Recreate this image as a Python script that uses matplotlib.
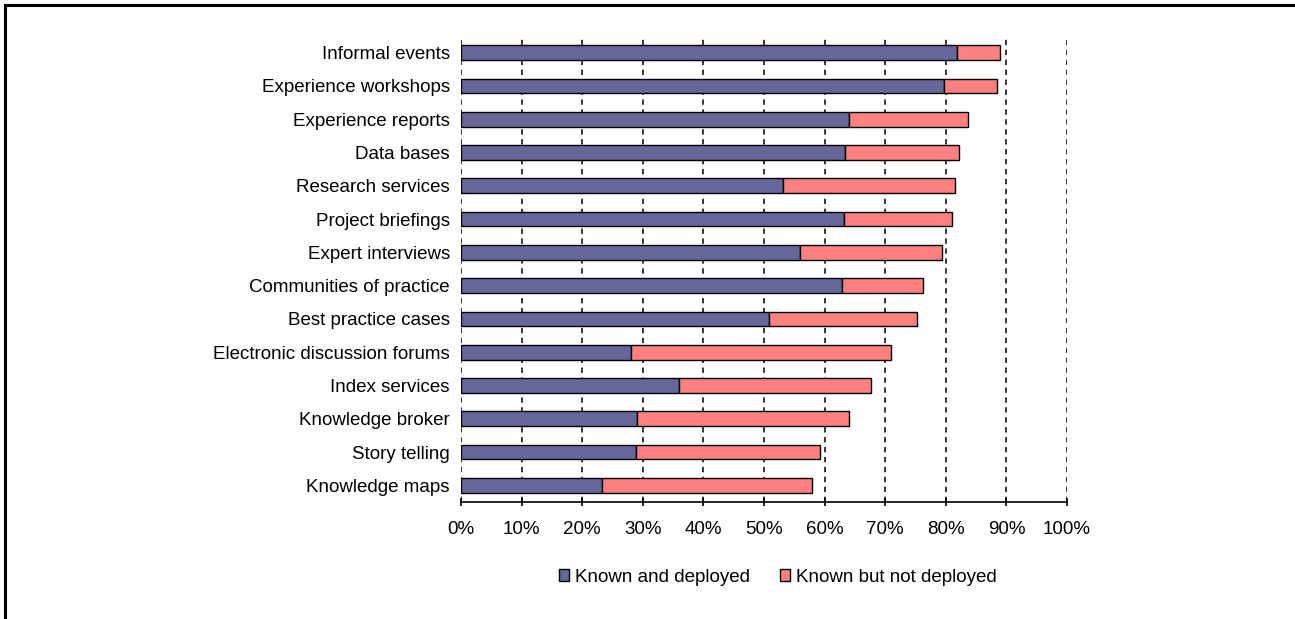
import matplotlib.pyplot as plt
from matplotlib.lines import Line2D

plt.rcParams['font.family'] = ['Liberation Sans', 'DejaVu Sans']

# top to bottom as shown
categories = ['Informal events', 'Experience workshops', 'Experience reports', 'Data bases',
              'Research services', 'Project briefings', 'Expert interviews',
              'Communities of practice', 'Best practice cases', 'Electronic discussion forums',
              'Index services', 'Knowledge broker', 'Story telling', 'Knowledge maps']
deployed = [81.8, 79.7, 64.1, 63.4, 53.1, 63.2, 55.9, 62.9, 50.8, 28.0, 35.9, 29.1, 28.9, 23.3]
total = [89.0, 88.4, 83.7, 82.1, 81.6, 81.1, 79.4, 76.2, 75.3, 70.9, 67.6, 64.1, 59.2, 58.0]
not_deployed = [t - d for t, d in zip(total, deployed)]
xticks = list(range(0, 101, 10))

W, H = 1295, 619
fig = plt.figure(figsize=(W / 100, H / 100), dpi=100)
ax = fig.add_axes([461 / W, 1 - 502 / H, 606 / W, 466 / H])

y = list(range(len(categories)))
ax.barh(y, deployed, height=0.44, color='#666699', edgecolor='black', linewidth=1,
        label='Known and deployed', zorder=3)
ax.barh(y, not_deployed, left=deployed, height=0.44, color='#FF8080', edgecolor='black',
        linewidth=1, label='Known but not deployed', zorder=3)

ax.set_ylim(len(categories) - 0.5, -0.5)
ax.set_xlim(0, 100)
ax.set_yticks(y)
ax.set_yticklabels(categories, fontsize=13.5)
ax.set_xticks(xticks)
ax.set_xticklabels([f'{v}%' for v in xticks], fontsize=13.5)
ax.tick_params(axis='y', length=0, pad=8)
ax.tick_params(axis='x', direction='inout', length=6, width=1.2, pad=11)

for s in ['top', 'right', 'left']:
    ax.spines[s].set_visible(False)
ax.spines['bottom'].set_linewidth(1.2)
for v in xticks:
    ax.axvline(v, color='black', linestyle=(0, (3.5, 3)), linewidth=1.1, zorder=1)

fig.legend(loc='center', bbox_to_anchor=(778 / W, 1 - 577 / H), ncol=2, frameon=False,
           fontsize=13.5, handlelength=0.55, handleheight=0.55, handletextpad=0.3,
           columnspacing=1.6)

# border lines on top and left only
fig.add_artist(Line2D([5 / W, 5 / W], [0, 1 - 5 / H], color='black', linewidth=2.2,
                      transform=fig.transFigure))
fig.add_artist(Line2D([5 / W, 1], [1 - 5 / H, 1 - 5 / H], color='black', linewidth=2.2,
                      transform=fig.transFigure))

fig.savefig('out.png', dpi=100)
